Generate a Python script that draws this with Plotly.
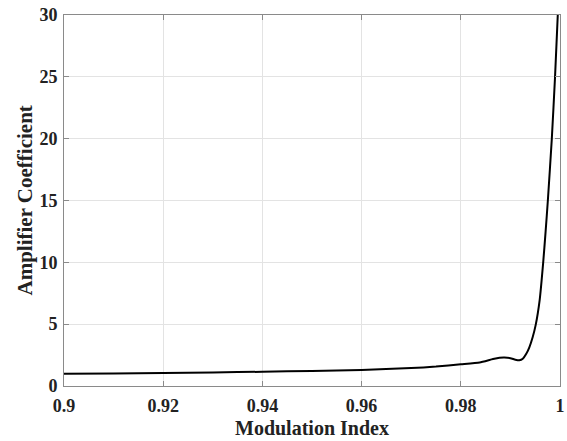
import plotly.graph_objects as go

mod_index = [0.9, 0.91, 0.92, 0.93, 0.94, 0.95, 0.96, 0.97, 0.975, 0.98,
             0.9838, 0.9865, 0.9878, 0.9888, 0.990, 0.991, 0.9918, 0.9925,
             0.9932, 0.9938, 0.9945, 0.9951, 0.9959, 0.9966, 0.9971, 0.99755,
             0.99835, 0.9990, 0.99955, 0.9997]
amp_coef = [1.0, 1.02, 1.05, 1.1, 1.15, 1.22, 1.3, 1.45, 1.57, 1.75,
            1.9, 2.18, 2.28, 2.3, 2.25, 2.13, 2.08, 2.2,
            2.6, 3.1, 3.96, 4.94, 6.95, 9.94, 12.5, 15.0,
            20.0, 25.0, 30.0, 31.0]

x_ticks = [0.9, 0.92, 0.94, 0.96, 0.98, 1.0]
x_tick_labels = ["0.9", "0.92", "0.94", "0.96", "0.98", "1"]
y_ticks = [0, 5, 10, 15, 20, 25, 30]
y_tick_labels = [str(v) for v in y_ticks]

font_family = "Liberation Serif"
text_color = "#222222"
axis_color = "#8a8a8a"
grid_color = "#e3e3e3"

fig = go.Figure()
fig.add_trace(go.Scatter(
    x=mod_index, y=amp_coef, mode="lines",
    line=dict(color="black", width=2, shape="spline", smoothing=0.5),
    showlegend=False,
))

axis_common = dict(
    showline=True, linecolor=axis_color, linewidth=1, mirror="ticks",
    ticks="inside", ticklen=5, tickcolor=axis_color, tickwidth=1,
    showgrid=True, gridcolor=grid_color, gridwidth=1, zeroline=False,
    tickfont=dict(family=font_family, size=18, color=text_color),
    automargin=False,
)

fig.update_xaxes(
    range=[0.9, 1.0], tickvals=x_ticks,
    ticktext=[f"<b>{t}</b>" for t in x_tick_labels],
    ticklabelstandoff=3,
    **axis_common,
)
fig.update_yaxes(
    range=[0, 30], tickvals=y_ticks,
    ticktext=[f"<b>{t}</b>" for t in y_tick_labels],
    ticklabelstandoff=2,
    **axis_common,
)

fig.add_annotation(
    text="<b>Modulation Index</b>", xref="paper", yref="paper", x=0.5, y=0,
    xanchor="center", yanchor="middle", yshift=-42, showarrow=False,
    font=dict(family=font_family, size=20, color=text_color),
)
fig.add_annotation(
    text="<b>Amplifier Coefficient</b>", xref="paper", yref="paper", x=0, y=0.5,
    xanchor="center", yanchor="middle", xshift=-40, textangle=-90, showarrow=False,
    font=dict(family=font_family, size=21, color=text_color),
)

fig.update_layout(
    width=567, height=441,
    margin=dict(l=64, r=7, t=15, b=55),
    paper_bgcolor="white", plot_bgcolor="white",
    font=dict(family=font_family),
)

fig.write_html("out.html")
